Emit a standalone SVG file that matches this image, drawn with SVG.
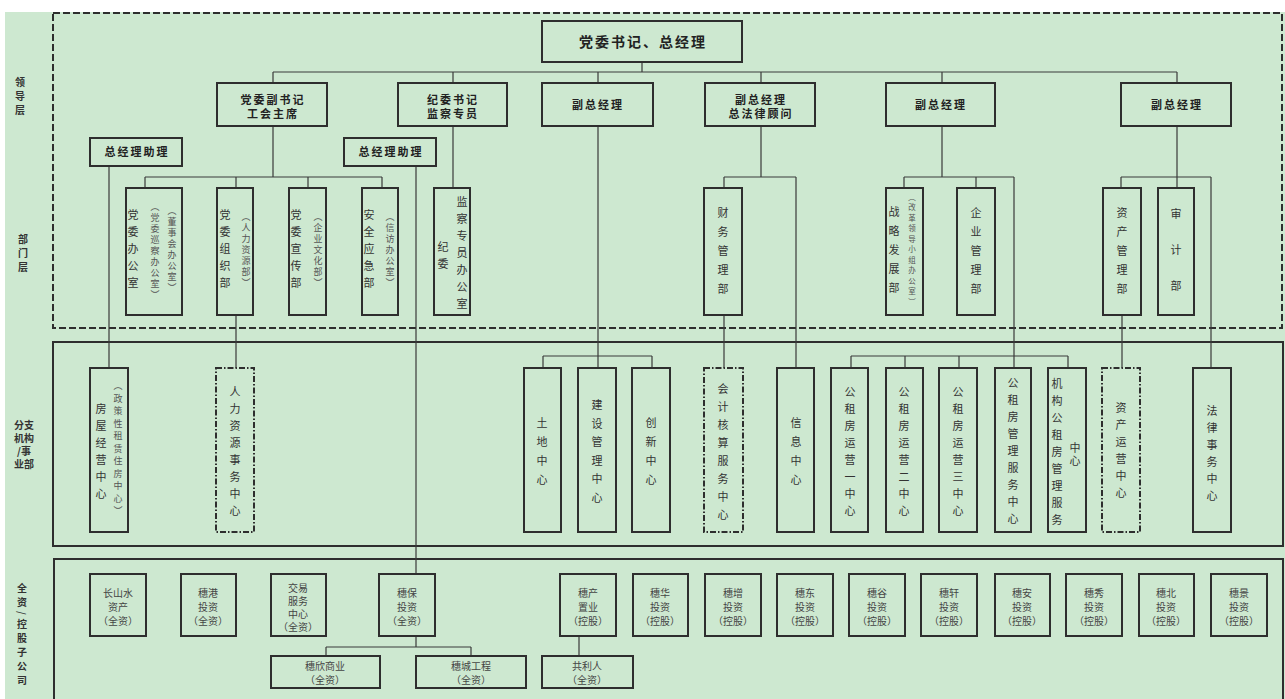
<svg xmlns="http://www.w3.org/2000/svg" width="1285" height="699" viewBox="0 0 1285 699">
<style>
.bg{fill:#cde8d0}
.bx{fill:none;stroke:#2e2e2e;stroke-width:2}
.dd{fill:none;stroke:#2e2e2e;stroke-width:2;stroke-dasharray:6 2 1.5 2}
.frame{fill:none;stroke:#2e2e2e;stroke-width:2}
.dash{fill:none;stroke:#2e2e2e;stroke-width:2;stroke-dasharray:7 3}
.ln{fill:none;stroke:#3a3a3a;stroke-width:1.2}
.t{font-family:"Noto Sans CJK SC","Noto Sans",sans-serif;fill:#222}
.h{font-size:11px;font-weight:bold;text-anchor:middle;letter-spacing:2px}
.s{font-size:10px;text-anchor:middle;fill:#444}
.v{writing-mode:vertical-lr;font-size:11px;text-anchor:middle;letter-spacing:6px;fill:#333}
.vs{writing-mode:vertical-lr;font-size:9px;text-anchor:middle;letter-spacing:2px;fill:#555}
.lab{font-size:10px;font-weight:bold;text-anchor:middle;fill:#333}
.labv{writing-mode:vertical-lr;font-size:10px;font-weight:bold;text-anchor:middle;letter-spacing:4px;fill:#333}
</style>
<rect class="bg" x="5" y="12" width="1280" height="687"/>
<g id="frames">
<rect class="dash" x="53" y="13" width="1229" height="315"/>
<rect class="frame" x="53" y="342" width="1230" height="204"/>
<rect class="frame" x="54" y="559" width="1229" height="150"/>
</g>
<g id="layer-labels">
<text class="t labv" x="20" y="98">领导层</text>
<text class="t labv" x="23" y="255">部门层</text>
<text class="t lab" x="24" y="429">分支</text>
<text class="t lab" x="24" y="442">机构</text>
<text class="t lab" x="24" y="455">/事</text>
<text class="t lab" x="24" y="468">业部</text>
<text class="t labv" x="22" y="636">全资/控股子公司</text>
</g>
<g id="connectors">
<path class="ln" d="M642 62V72M273 72H1177M273 72V83M453 72V83M598 72V83M761 72V83M942 72V83M1177 72V83"/>
<path class="ln" d="M273 126V177M145 177H382M145 177V188M236 177V188M308 177V188M382 177V188"/>
<path class="ln" d="M453 126V188"/>
<path class="ln" d="M598 126V356M543 356H652M543 356V368M598 356V368M652 356V368"/>
<path class="ln" d="M761 126V177M724 177H796M724 177V188M796 177V368M724 315V368"/>
<path class="ln" d="M942 126V177M904 177H1014M904 177V188M976 177V188M1014 177V368"/>
<path class="ln" d="M851 356H1068M851 356V368M905 356V368M959 356V368M1068 356V368"/>
<path class="ln" d="M1177 126V188M1121 177H1211M1121 177V188M1211 177V368M1122 315V368"/>
<path class="ln" d="M109 166V368M416 166V574M236 315V368"/>
<path class="ln" d="M416 636V647M326 647H471M326 647V656M471 647V656M579 636V656"/>
</g>
<g id="n-top"><rect class="bx" x="542" y="21" width="200" height="41"/><text class="t h" x="643" y="47" style="font-size:14px;letter-spacing:2px">党委书记、总经理</text></g>
<g id="n-l1"><rect class="bx" x="217" y="83" width="110" height="43"/><text class="t h" x="273" y="104">党委副书记</text><text class="t h" x="273" y="118">工会主席</text></g>
<g id="n-l2"><rect class="bx" x="398" y="83" width="109" height="43"/><text class="t h" x="453" y="104">纪委书记</text><text class="t h" x="453" y="118">监察专员</text></g>
<g id="n-l3"><rect class="bx" x="542" y="83" width="111" height="43"/><text class="t h" x="598" y="109">副总经理</text></g>
<g id="n-l4"><rect class="bx" x="705" y="83" width="110" height="43"/><text class="t h" x="761" y="104">副总经理</text><text class="t h" x="761" y="118">总法律顾问</text></g>
<g id="n-l5"><rect class="bx" x="886" y="83" width="109" height="43"/><text class="t h" x="941" y="109">副总经理</text></g>
<g id="n-l6"><rect class="bx" x="1121" y="83" width="110" height="43"/><text class="t h" x="1177" y="109">副总经理</text></g>
<g id="n-a1"><rect class="bx" x="90" y="138" width="92" height="28"/><text class="t h" x="137" y="156">总经理助理</text></g>
<g id="n-a2"><rect class="bx" x="344" y="138" width="92" height="28"/><text class="t h" x="391" y="156">总经理助理</text></g>
<g id="d1"><rect class="bx" x="126" y="188" width="56" height="127"/><text class="t v" x="133" y="252">党委办公室</text><text class="t vs" x="155" y="252">（党委巡察办公室）</text><text class="t vs" x="172" y="250">（董事会办公室）</text></g>
<g id="d2"><rect class="bx" x="217" y="188" width="36" height="127"/><text class="t v" x="225" y="252">党委组织部</text><text class="t vs" x="246" y="251">（人力资源部）</text></g>
<g id="d3"><rect class="bx" x="289" y="188" width="37" height="127"/><text class="t v" x="296" y="252">党委宣传部</text><text class="t vs" x="318" y="251">（企业文化部）</text></g>
<g id="d4"><rect class="bx" x="362" y="188" width="36" height="127"/><text class="t v" x="369" y="252">安全应急部</text><text class="t vs" x="390" y="251">（信访办公室）</text></g>
<g id="d5"><rect class="bx" x="434" y="188" width="36" height="127"/><text class="t v" x="443" y="258">纪委</text><text class="t v" x="462" y="256">监察专员办公室</text></g>
<g id="d6"><rect class="bx" x="704" y="188" width="38" height="127"/><text class="t v" x="723" y="255" style="letter-spacing:8px">财务管理部</text></g>
<g id="d7"><rect class="bx" x="886" y="188" width="37" height="127"/><text class="t v" x="894" y="254" style="letter-spacing:8px">战略发展部</text><text class="t vs" x="912" y="251" style="font-size:7.5px;letter-spacing:3px">（改革领导小组办公室）</text></g>
<g id="d8"><rect class="bx" x="957" y="188" width="38" height="127"/><text class="t v" x="976" y="255" style="letter-spacing:8px">企业管理部</text></g>
<g id="d9"><rect class="bx" x="1103" y="188" width="38" height="127"/><text class="t v" x="1122" y="255" style="letter-spacing:8px">资产管理部</text></g>
<g id="d10"><rect class="bx" x="1158" y="188" width="36" height="127"/><text class="t v" x="1176" y="262" style="letter-spacing:25px">审计部</text></g>
<g id="b1"><rect class="bx" x="90" y="368" width="38" height="164"/><text class="t v" x="101" y="454">房屋经营中心</text><text class="t vs" x="118" y="450" style="letter-spacing:3.5px">（政策性租赁住房中心）</text></g>
<g id="b2"><rect class="dd" x="216" y="368" width="38" height="164"/><text class="t v" x="235" y="454">人力资源事务中心</text></g>
<g id="b3"><rect class="bx" x="524" y="368" width="37" height="164"/><text class="t v" x="542" y="455" style="letter-spacing:8px">土地中心</text></g>
<g id="b4"><rect class="bx" x="578" y="368" width="38" height="164"/><text class="t v" x="597" y="455" style="letter-spacing:7.5px">建设管理中心</text></g>
<g id="b5"><rect class="bx" x="632" y="368" width="38" height="164"/><text class="t v" x="651" y="455" style="letter-spacing:8px">创新中心</text></g>
<g id="b6"><rect class="dd" x="704" y="368" width="39" height="164"/><text class="t v" x="723" y="455" style="letter-spacing:7px">会计核算服务中心</text></g>
<g id="b7"><rect class="bx" x="777" y="368" width="37" height="164"/><text class="t v" x="796" y="455" style="letter-spacing:8px">信息中心</text></g>
<g id="b8"><rect class="bx" x="831" y="368" width="37" height="164"/><text class="t v" x="850" y="454">公租房运营一中心</text></g>
<g id="b9"><rect class="bx" x="886" y="368" width="37" height="164"/><text class="t v" x="904" y="454">公租房运营二中心</text></g>
<g id="b10"><rect class="bx" x="939" y="368" width="38" height="164"/><text class="t v" x="958" y="454">公租房运营三中心</text></g>
<g id="b11"><rect class="bx" x="995" y="368" width="36" height="164"/><text class="t v" x="1013" y="454">公租房管理服务中心</text></g>
<g id="b12"><rect class="bx" x="1048" y="368" width="38" height="164"/><text class="t v" x="1057" y="455">机构公租房管理服务</text><text class="t v" x="1075" y="455" style="letter-spacing:2px">中心</text></g>
<g id="b13"><rect class="dd" x="1102" y="368" width="38" height="164"/><text class="t v" x="1121" y="453">资产运营中心</text></g>
<g id="b14"><rect class="bx" x="1193" y="368" width="38" height="164"/><text class="t v" x="1212" y="456">法律事务中心</text></g>
<g id="s1"><rect class="bx" x="90" y="574" width="56" height="62"/><text class="t s" x="118" y="597">长山水</text><text class="t s" x="118" y="611">资产</text><text class="t s" x="118" y="625">（全资）</text></g>
<g id="s2"><rect class="bx" x="181" y="574" width="55" height="62"/><text class="t s" x="208" y="597">穗港</text><text class="t s" x="208" y="611">投资</text><text class="t s" x="208" y="625">（全资）</text></g>
<g id="s3"><rect class="bx" x="271" y="574" width="55" height="62"/><text class="t s" x="298" y="592">交易</text><text class="t s" x="298" y="605">服务</text><text class="t s" x="298" y="618">中心</text><text class="t s" x="298" y="631">（全资）</text></g>
<g id="s4"><rect class="bx" x="379" y="574" width="56" height="62"/><text class="t s" x="407" y="597">穗保</text><text class="t s" x="407" y="611">投资</text><text class="t s" x="407" y="625">（全资）</text></g>
<g id="s5"><rect class="bx" x="560" y="574" width="56" height="62"/><text class="t s" x="588" y="597">穗产</text><text class="t s" x="588" y="611">置业</text><text class="t s" x="588" y="625">（控股）</text></g>
<g id="s6"><rect class="bx" x="633" y="574" width="55" height="62"/><text class="t s" x="660" y="597">穗华</text><text class="t s" x="660" y="611">投资</text><text class="t s" x="660" y="625">（控股）</text></g>
<g id="s7"><rect class="bx" x="705" y="574" width="56" height="62"/><text class="t s" x="733" y="597">穗增</text><text class="t s" x="733" y="611">投资</text><text class="t s" x="733" y="625">（控股）</text></g>
<g id="s8"><rect class="bx" x="777" y="574" width="56" height="62"/><text class="t s" x="805" y="597">穗东</text><text class="t s" x="805" y="611">投资</text><text class="t s" x="805" y="625">（控股）</text></g>
<g id="s9"><rect class="bx" x="849" y="574" width="56" height="62"/><text class="t s" x="877" y="597">穗谷</text><text class="t s" x="877" y="611">投资</text><text class="t s" x="877" y="625">（控股）</text></g>
<g id="s10"><rect class="bx" x="921" y="574" width="56" height="62"/><text class="t s" x="949" y="597">穗轩</text><text class="t s" x="949" y="611">投资</text><text class="t s" x="949" y="625">（控股）</text></g>
<g id="s11"><rect class="bx" x="995" y="574" width="55" height="62"/><text class="t s" x="1022" y="597">穗安</text><text class="t s" x="1022" y="611">投资</text><text class="t s" x="1022" y="625">（控股）</text></g>
<g id="s12"><rect class="bx" x="1066" y="574" width="56" height="62"/><text class="t s" x="1094" y="597">穗秀</text><text class="t s" x="1094" y="611">投资</text><text class="t s" x="1094" y="625">（控股）</text></g>
<g id="s13"><rect class="bx" x="1139" y="574" width="55" height="62"/><text class="t s" x="1166" y="597">穗北</text><text class="t s" x="1166" y="611">投资</text><text class="t s" x="1166" y="625">（控股）</text></g>
<g id="s14"><rect class="bx" x="1211" y="574" width="56" height="62"/><text class="t s" x="1239" y="597">穗景</text><text class="t s" x="1239" y="611">投资</text><text class="t s" x="1239" y="625">（控股）</text></g>
<g id="s15"><rect class="bx" x="271" y="656" width="109" height="32"/><text class="t s" x="325" y="670">穗欣商业</text><text class="t s" x="325" y="684">（全资）</text></g>
<g id="s16"><rect class="bx" x="416" y="656" width="110" height="32"/><text class="t s" x="471" y="670">穗城工程</text><text class="t s" x="471" y="684">（全资）</text></g>
<g id="s17"><rect class="bx" x="542" y="656" width="91" height="32"/><text class="t s" x="587" y="670">共利人</text><text class="t s" x="587" y="684">（全资）</text></g>
</svg>
